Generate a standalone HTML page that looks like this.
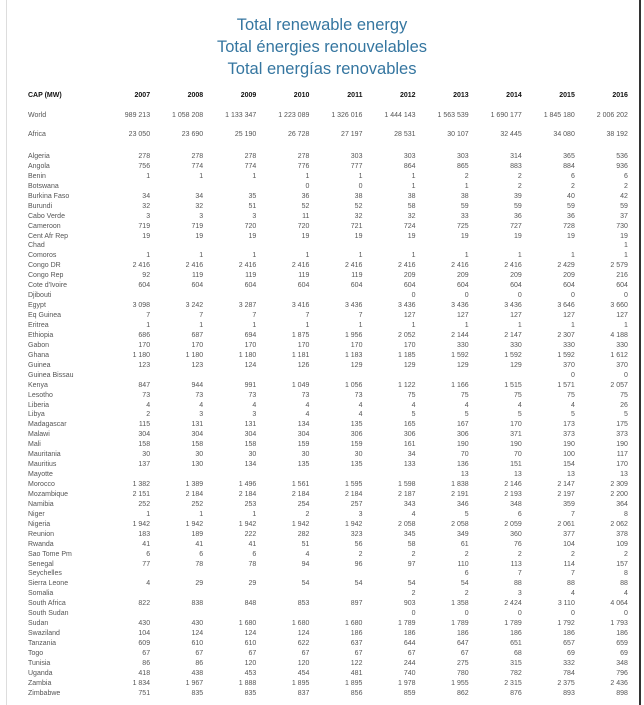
<!DOCTYPE html>
<html><head><meta charset="utf-8"><style>
html,body{margin:0;padding:0;background:#fff;}
body{width:644px;height:705px;position:relative;overflow:hidden;font-family:"Liberation Sans",sans-serif;}
.lb{position:absolute;left:6px;top:0;width:1px;height:705px;background:#ddd;}
.rb{position:absolute;left:639px;top:0;width:2px;height:705px;background:#333;}
.t{position:absolute;left:0;width:644px;text-align:center;color:#3576a0;font-size:16.5px;line-height:22px;}
.r{position:absolute;left:28px;width:600px;height:10px;line-height:10px;font-size:7px;color:#555;display:flex;white-space:nowrap;}
.r span{width:53.1px;text-align:right;}
.r span:first-child{width:69px;text-align:left;}
.h{color:#111;font-weight:bold;font-size:7px;}
</style></head><body>
<div class="lb"></div><div class="rb"></div>
<div class="t" style="top:14px">Total renewable energy</div>
<div class="t" style="top:36px">Total énergies renouvelables</div>
<div class="t" style="top:58px">Total energías renovables</div>
<div id="c"></div>
<script>
const rows=[
["CAP (MW)","2007","2008","2009","2010","2011","2012","2013","2014","2015","2016"],
["World","989 213","1 058 208","1 133 347","1 223 089","1 326 016","1 444 143","1 563 539","1 690 177","1 845 180","2 006 202"],
["Africa","23 050","23 690","25 190","26 728","27 197","28 531","30 107","32 445","34 080","38 192"],
["Algeria","278","278","278","278","303","303","303","314","365","536"],
["Angola","756","774","774","776","777","864","865","883","884","936"],
["Benin","1","1","1","1","1","1","2","2","6","6"],
["Botswana","","","","0","0","1","1","2","2","2"],
["Burkina Faso","34","34","35","36","38","38","38","39","40","42"],
["Burundi","32","32","51","52","52","58","59","59","59","59"],
["Cabo Verde","3","3","3","11","32","32","33","36","36","37"],
["Cameroon","719","719","720","720","721","724","725","727","728","730"],
["Cent Afr Rep","19","19","19","19","19","19","19","19","19","19"],
["Chad","","","","","","","","","","1"],
["Comoros","1","1","1","1","1","1","1","1","1","1"],
["Congo DR","2 416","2 416","2 416","2 416","2 416","2 416","2 416","2 416","2 429","2 579"],
["Congo Rep","92","119","119","119","119","209","209","209","209","216"],
["Cote d'Ivoire","604","604","604","604","604","604","604","604","604","604"],
["Djibouti","","","","","","0","0","0","0","0"],
["Egypt","3 098","3 242","3 287","3 416","3 436","3 436","3 436","3 436","3 646","3 660"],
["Eq Guinea","7","7","7","7","7","127","127","127","127","127"],
["Eritrea","1","1","1","1","1","1","1","1","1","1"],
["Ethiopia","686","687","694","1 875","1 956","2 052","2 144","2 147","2 307","4 188"],
["Gabon","170","170","170","170","170","170","330","330","330","330"],
["Ghana","1 180","1 180","1 180","1 181","1 183","1 185","1 592","1 592","1 592","1 612"],
["Guinea","123","123","124","126","129","129","129","129","370","370"],
["Guinea Bissau","","","","","","","","","0","0"],
["Kenya","847","944","991","1 049","1 056","1 122","1 166","1 515","1 571","2 057"],
["Lesotho","73","73","73","73","73","75","75","75","75","75"],
["Liberia","4","4","4","4","4","4","4","4","4","26"],
["Libya","2","3","3","4","4","5","5","5","5","5"],
["Madagascar","115","131","131","134","135","165","167","170","173","175"],
["Malawi","304","304","304","304","306","306","306","371","373","373"],
["Mali","158","158","158","159","159","161","190","190","190","190"],
["Mauritania","30","30","30","30","30","34","70","70","100","117"],
["Mauritius","137","130","134","135","135","133","136","151","154","170"],
["Mayotte","","","","","","","13","13","13","13"],
["Morocco","1 382","1 389","1 496","1 561","1 595","1 598","1 838","2 146","2 147","2 309"],
["Mozambique","2 151","2 184","2 184","2 184","2 184","2 187","2 191","2 193","2 197","2 200"],
["Namibia","252","252","253","254","257","343","346","348","359","364"],
["Niger","1","1","1","2","3","4","5","6","7","8"],
["Nigeria","1 942","1 942","1 942","1 942","1 942","2 058","2 058","2 059","2 061","2 062"],
["Reunion","183","189","222","282","323","345","349","360","377","378"],
["Rwanda","41","41","41","51","56","58","61","76","104","109"],
["Sao Tome Pm","6","6","6","4","2","2","2","2","2","2"],
["Senegal","77","78","78","94","96","97","110","113","114","157"],
["Seychelles","","","","","","","6","7","7","8"],
["Sierra Leone","4","29","29","54","54","54","54","88","88","88"],
["Somalia","","","","","","2","2","3","4","4"],
["South Africa","822","838","848","853","897","903","1 358","2 424","3 110","4 064"],
["South Sudan","","","","","","0","0","0","0","0"],
["Sudan","430","430","1 680","1 680","1 680","1 789","1 789","1 789","1 792","1 793"],
["Swaziland","104","124","124","124","186","186","186","186","186","186"],
["Tanzania","609","610","610","622","637","644","647","651","657","659"],
["Togo","67","67","67","67","67","67","67","68","69","69"],
["Tunisia","86","86","120","120","122","244","275","315","332","348"],
["Uganda","418","438","453","454","481","740","780","782","784","796"],
["Zambia","1 834","1 967","1 888","1 895","1 895","1 978","1 955","2 315","2 375","2 436"],
["Zimbabwe","751","835","835","837","856","859","862","876","893","898"]];
let h="";
rows.forEach((r,i)=>{
 let y = i==0?96: i==1?116: i==2?135: 157+(i-3)*9.94;
 h+='<div class="r'+(i==0?' h':'')+'" style="top:'+(y-5)+'px">'+r.map(v=>'<span>'+v+'</span>').join('')+'</div>';
});
document.getElementById('c').innerHTML=h;
</script>
</body></html>
